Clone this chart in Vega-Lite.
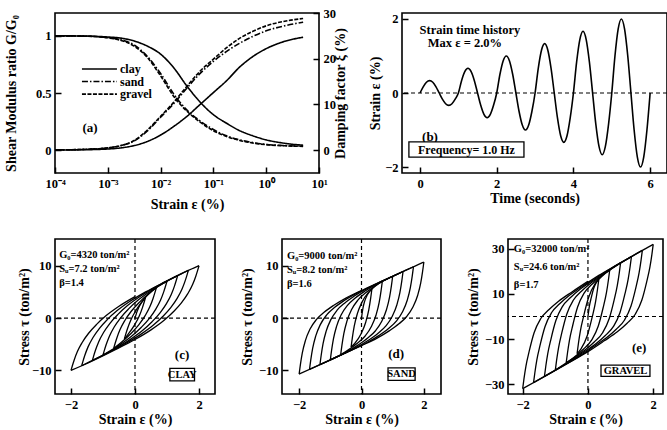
{
"$schema":"https://vega.github.io/schema/vega-lite/v6.json",
"background":"white",
"padding":{"left":3,"top":6,"right":2,"bottom":2},
"config":{
 "view":{"stroke":"black","strokeWidth":1.6},
 "axis":{"grid":false,"domain":false,"ticks":true,"tickSize":6,"offset":-6,"zindex":1,"tickColor":"#000000","tickOpacity":1,"tickWidth":1.5,"labelFont":"Liberation Serif","labelFontSize":12.5,"labelFontWeight":"bold","labelColor":"black","labelPadding":4,"titleFont":"Liberation Serif","titleFontSize":14,"titleFontWeight":"bold","titleColor":"black","labelFlush":false,"labelOverlap":false},
 "text":{"font":"Liberation Serif","fontWeight":"bold","color":"black","fontSize":12},
 "line":{"color":"black"},
 "rule":{"color":"black"}
},
"datasets":{
"gg":[
{"m":"clay","e":0.0001,"G":1.0},{"m":"clay","e":0.000316,"G":0.999},{"m":"clay","e":0.001,"G":0.99},{"m":"clay","e":0.00178,"G":0.98},{"m":"clay","e":0.00316,"G":0.955},{"m":"clay","e":0.00562,"G":0.91},{"m":"clay","e":0.01,"G":0.84},{"m":"clay","e":0.0178,"G":0.72},{"m":"clay","e":0.0316,"G":0.56},{"m":"clay","e":0.0562,"G":0.42},{"m":"clay","e":0.1,"G":0.31},{"m":"clay","e":0.178,"G":0.235},{"m":"clay","e":0.316,"G":0.17},{"m":"clay","e":0.562,"G":0.125},{"m":"clay","e":1,"G":0.09},{"m":"clay","e":2.24,"G":0.06},{"m":"clay","e":5,"G":0.043},
{"m":"sand","e":0.0001,"G":1.0},{"m":"sand","e":0.000316,"G":0.998},{"m":"sand","e":0.001,"G":0.985},{"m":"sand","e":0.00178,"G":0.965},{"m":"sand","e":0.00316,"G":0.92},{"m":"sand","e":0.00562,"G":0.82},{"m":"sand","e":0.01,"G":0.67},{"m":"sand","e":0.0178,"G":0.49},{"m":"sand","e":0.0316,"G":0.35},{"m":"sand","e":0.0562,"G":0.255},{"m":"sand","e":0.1,"G":0.18},{"m":"sand","e":0.178,"G":0.125},{"m":"sand","e":0.316,"G":0.09},{"m":"sand","e":0.562,"G":0.066},{"m":"sand","e":1,"G":0.05},{"m":"sand","e":2.24,"G":0.04},{"m":"sand","e":5,"G":0.035},
{"m":"gravel","e":0.0001,"G":1.0},{"m":"gravel","e":0.000316,"G":0.998},{"m":"gravel","e":0.001,"G":0.983},{"m":"gravel","e":0.00178,"G":0.96},{"m":"gravel","e":0.00316,"G":0.91},{"m":"gravel","e":0.00562,"G":0.81},{"m":"gravel","e":0.01,"G":0.65},{"m":"gravel","e":0.0178,"G":0.47},{"m":"gravel","e":0.0316,"G":0.34},{"m":"gravel","e":0.0562,"G":0.245},{"m":"gravel","e":0.1,"G":0.17},{"m":"gravel","e":0.178,"G":0.12},{"m":"gravel","e":0.316,"G":0.085},{"m":"gravel","e":0.562,"G":0.062},{"m":"gravel","e":1,"G":0.048},{"m":"gravel","e":2.24,"G":0.038},{"m":"gravel","e":5,"G":0.033}
],
"dd":[
{"m":"clay","e":0.0001,"D":0.02},{"m":"clay","e":0.000316,"D":0.08},{"m":"clay","e":0.001,"D":0.25},{"m":"clay","e":0.00178,"D":0.5},{"m":"clay","e":0.00316,"D":1.0},{"m":"clay","e":0.00562,"D":1.9},{"m":"clay","e":0.01,"D":3.3},{"m":"clay","e":0.0178,"D":5.2},{"m":"clay","e":0.0316,"D":7.4},{"m":"clay","e":0.0562,"D":10.0},{"m":"clay","e":0.1,"D":12.6},{"m":"clay","e":0.178,"D":15.2},{"m":"clay","e":0.316,"D":18.2},{"m":"clay","e":0.562,"D":20.5},{"m":"clay","e":1,"D":22.2},{"m":"clay","e":2.24,"D":23.8},{"m":"clay","e":5,"D":24.7},
{"m":"sand","e":0.0001,"D":0.05},{"m":"sand","e":0.000316,"D":0.15},{"m":"sand","e":0.001,"D":0.5},{"m":"sand","e":0.00178,"D":1.0},{"m":"sand","e":0.00316,"D":2.0},{"m":"sand","e":0.00562,"D":4.2},{"m":"sand","e":0.01,"D":7.2},{"m":"sand","e":0.0178,"D":10.2},{"m":"sand","e":0.0316,"D":13.6},{"m":"sand","e":0.0562,"D":16.8},{"m":"sand","e":0.1,"D":19.4},{"m":"sand","e":0.178,"D":21.6},{"m":"sand","e":0.316,"D":23.4},{"m":"sand","e":0.562,"D":24.9},{"m":"sand","e":1,"D":26.1},{"m":"sand","e":2.24,"D":27.2},{"m":"sand","e":5,"D":28.0},
{"m":"gravel","e":0.0001,"D":0.05},{"m":"gravel","e":0.000316,"D":0.15},{"m":"gravel","e":0.001,"D":0.5},{"m":"gravel","e":0.00178,"D":1.0},{"m":"gravel","e":0.00316,"D":2.1},{"m":"gravel","e":0.00562,"D":4.4},{"m":"gravel","e":0.01,"D":7.4},{"m":"gravel","e":0.0178,"D":10.5},{"m":"gravel","e":0.0316,"D":14.0},{"m":"gravel","e":0.0562,"D":17.3},{"m":"gravel","e":0.1,"D":19.9},{"m":"gravel","e":0.178,"D":22.4},{"m":"gravel","e":0.316,"D":24.5},{"m":"gravel","e":0.562,"D":26.0},{"m":"gravel","e":1,"D":27.2},{"m":"gravel","e":2.24,"D":28.2},{"m":"gravel","e":5,"D":28.8}
],
"th":[
{"t":0,"s":0},{"t":0.083,"s":0.167},{"t":0.167,"s":0.289},{"t":0.25,"s":0.333},{"t":0.333,"s":0.289},{"t":0.417,"s":0.167},{"t":0.5,"s":0},{"t":0.583,"s":-0.167},{"t":0.667,"s":-0.289},{"t":0.75,"s":-0.333},{"t":0.833,"s":-0.289},{"t":0.917,"s":-0.167},
{"t":1,"s":0},{"t":1.083,"s":0.333},{"t":1.167,"s":0.577},{"t":1.25,"s":0.667},{"t":1.333,"s":0.577},{"t":1.417,"s":0.333},{"t":1.5,"s":0},{"t":1.583,"s":-0.333},{"t":1.667,"s":-0.577},{"t":1.75,"s":-0.667},{"t":1.833,"s":-0.577},{"t":1.917,"s":-0.333},
{"t":2,"s":0},{"t":2.083,"s":0.5},{"t":2.167,"s":0.866},{"t":2.25,"s":1},{"t":2.333,"s":0.866},{"t":2.417,"s":0.5},{"t":2.5,"s":0},{"t":2.583,"s":-0.5},{"t":2.667,"s":-0.866},{"t":2.75,"s":-1},{"t":2.833,"s":-0.866},{"t":2.917,"s":-0.5},
{"t":3,"s":0},{"t":3.083,"s":0.667},{"t":3.167,"s":1.155},{"t":3.25,"s":1.333},{"t":3.333,"s":1.155},{"t":3.417,"s":0.667},{"t":3.5,"s":0},{"t":3.583,"s":-0.667},{"t":3.667,"s":-1.155},{"t":3.75,"s":-1.333},{"t":3.833,"s":-1.155},{"t":3.917,"s":-0.667},
{"t":4,"s":0},{"t":4.083,"s":0.833},{"t":4.167,"s":1.443},{"t":4.25,"s":1.667},{"t":4.333,"s":1.443},{"t":4.417,"s":0.833},{"t":4.5,"s":0},{"t":4.583,"s":-0.833},{"t":4.667,"s":-1.443},{"t":4.75,"s":-1.667},{"t":4.833,"s":-1.443},{"t":4.917,"s":-0.833},
{"t":5,"s":0},{"t":5.083,"s":1},{"t":5.167,"s":1.732},{"t":5.25,"s":2},{"t":5.333,"s":1.732},{"t":5.417,"s":1},{"t":5.5,"s":0},{"t":5.583,"s":-1},{"t":5.667,"s":-1.732},{"t":5.75,"s":-2},{"t":5.833,"s":-1.732},{"t":5.917,"s":-1},{"t":6,"s":0}
],
"clay":[
{"b":"B0","e":0,"s":0},{"b":"B0","e":0.02,"s":0.42},{"b":"B0","e":0.05,"s":1.0},{"b":"B0","e":0.1,"s":1.8},{"b":"B0","e":0.175,"s":2.67},{"b":"B0","e":0.25,"s":3.35},{"b":"B0","e":0.333,"s":4.0},
{"b":"D1","e":0.333,"s":4.0},{"b":"D1","e":0.293,"s":3.16},{"b":"D1","e":0.233,"s":2.0},{"b":"D1","e":0.133,"s":0.4},{"b":"D1","e":-0.017,"s":-1.34},{"b":"D1","e":-0.217,"s":-3.1},{"b":"D1","e":-0.333,"s":-4.0},
{"b":"A1","e":-0.333,"s":-4.0},{"b":"A1","e":-0.293,"s":-3.16},{"b":"A1","e":-0.233,"s":-2.0},{"b":"A1","e":-0.133,"s":-0.4},{"b":"A1","e":0.017,"s":1.34},{"b":"A1","e":0.217,"s":3.1},{"b":"A1","e":0.333,"s":4.0},{"b":"A1","e":0.5,"s":5.0},{"b":"A1","e":0.667,"s":5.8},
{"b":"D2","e":0.667,"s":5.8},{"b":"D2","e":0.627,"s":4.96},{"b":"D2","e":0.567,"s":3.8},{"b":"D2","e":0.467,"s":2.2},{"b":"D2","e":0.317,"s":0.46},{"b":"D2","e":0.117,"s":-1.3},{"b":"D2","e":-0.133,"s":-3.0},{"b":"D2","e":-0.433,"s":-4.68},{"b":"D2","e":-0.667,"s":-5.8},
{"b":"A2","e":-0.667,"s":-5.8},{"b":"A2","e":-0.627,"s":-4.96},{"b":"A2","e":-0.567,"s":-3.8},{"b":"A2","e":-0.467,"s":-2.2},{"b":"A2","e":-0.317,"s":-0.46},{"b":"A2","e":-0.117,"s":1.3},{"b":"A2","e":0.133,"s":3.0},{"b":"A2","e":0.433,"s":4.68},{"b":"A2","e":0.667,"s":5.8},{"b":"A2","e":0.833,"s":6.45},{"b":"A2","e":1,"s":7.05},
{"b":"D3","e":1,"s":7.05},{"b":"D3","e":0.96,"s":6.21},{"b":"D3","e":0.9,"s":5.05},{"b":"D3","e":0.8,"s":3.45},{"b":"D3","e":0.65,"s":1.71},{"b":"D3","e":0.45,"s":-0.05},{"b":"D3","e":0.2,"s":-1.75},{"b":"D3","e":-0.1,"s":-3.43},{"b":"D3","e":-0.5,"s":-5.21},{"b":"D3","e":-1,"s":-7.05},
{"b":"A3","e":-1,"s":-7.05},{"b":"A3","e":-0.96,"s":-6.21},{"b":"A3","e":-0.9,"s":-5.05},{"b":"A3","e":-0.8,"s":-3.45},{"b":"A3","e":-0.65,"s":-1.71},{"b":"A3","e":-0.45,"s":0.05},{"b":"A3","e":-0.2,"s":1.75},{"b":"A3","e":0.1,"s":3.43},{"b":"A3","e":0.5,"s":5.21},{"b":"A3","e":1,"s":7.05},{"b":"A3","e":1.167,"s":7.6},{"b":"A3","e":1.333,"s":8.1},
{"b":"D4","e":1.333,"s":8.1},{"b":"D4","e":1.293,"s":7.26},{"b":"D4","e":1.233,"s":6.1},{"b":"D4","e":1.133,"s":4.5},{"b":"D4","e":0.983,"s":2.76},{"b":"D4","e":0.783,"s":1.0},{"b":"D4","e":0.533,"s":-0.7},{"b":"D4","e":0.233,"s":-2.38},{"b":"D4","e":-0.167,"s":-4.16},{"b":"D4","e":-0.667,"s":-6.0},{"b":"D4","e":-1.333,"s":-8.1},
{"b":"A4","e":-1.333,"s":-8.1},{"b":"A4","e":-1.293,"s":-7.26},{"b":"A4","e":-1.233,"s":-6.1},{"b":"A4","e":-1.133,"s":-4.5},{"b":"A4","e":-0.983,"s":-2.76},{"b":"A4","e":-0.783,"s":-1.0},{"b":"A4","e":-0.533,"s":0.7},{"b":"A4","e":-0.233,"s":2.38},{"b":"A4","e":0.167,"s":4.16},{"b":"A4","e":0.667,"s":6.0},{"b":"A4","e":1.333,"s":8.1},{"b":"A4","e":1.5,"s":8.6},{"b":"A4","e":1.667,"s":9.1},
{"b":"D5","e":1.667,"s":9.1},{"b":"D5","e":1.627,"s":8.26},{"b":"D5","e":1.567,"s":7.1},{"b":"D5","e":1.467,"s":5.5},{"b":"D5","e":1.317,"s":3.76},{"b":"D5","e":1.117,"s":2.0},{"b":"D5","e":0.867,"s":0.3},{"b":"D5","e":0.567,"s":-1.38},{"b":"D5","e":0.167,"s":-3.16},{"b":"D5","e":-0.333,"s":-5.0},{"b":"D5","e":-0.933,"s":-6.9},{"b":"D5","e":-1.667,"s":-9.1},
{"b":"A5","e":-1.667,"s":-9.1},{"b":"A5","e":-1.627,"s":-8.26},{"b":"A5","e":-1.567,"s":-7.1},{"b":"A5","e":-1.467,"s":-5.5},{"b":"A5","e":-1.317,"s":-3.76},{"b":"A5","e":-1.117,"s":-2.0},{"b":"A5","e":-0.867,"s":-0.3},{"b":"A5","e":-0.567,"s":1.38},{"b":"A5","e":-0.167,"s":3.16},{"b":"A5","e":0.333,"s":5.0},{"b":"A5","e":0.933,"s":6.9},{"b":"A5","e":1.667,"s":9.1},{"b":"A5","e":1.833,"s":9.55},{"b":"A5","e":2,"s":10.0},
{"b":"D6","e":2,"s":10.0},{"b":"D6","e":1.96,"s":9.16},{"b":"D6","e":1.9,"s":8.0},{"b":"D6","e":1.8,"s":6.4},{"b":"D6","e":1.65,"s":4.66},{"b":"D6","e":1.45,"s":2.9},{"b":"D6","e":1.2,"s":1.2},{"b":"D6","e":0.9,"s":-0.48},{"b":"D6","e":0.5,"s":-2.26},{"b":"D6","e":0,"s":-4.1},{"b":"D6","e":-0.6,"s":-6.0},{"b":"D6","e":-1.3,"s":-8.1},{"b":"D6","e":-2,"s":-10.0},
{"b":"A6","e":-2,"s":-10.0},{"b":"A6","e":-1.96,"s":-9.16},{"b":"A6","e":-1.9,"s":-8.0},{"b":"A6","e":-1.8,"s":-6.4},{"b":"A6","e":-1.65,"s":-4.66},{"b":"A6","e":-1.45,"s":-2.9},{"b":"A6","e":-1.2,"s":-1.2},{"b":"A6","e":-0.9,"s":0.48},{"b":"A6","e":-0.5,"s":2.26},{"b":"A6","e":0,"s":4.1}
],
"sand":[
{"b":"B0","e":0,"s":0},{"b":"B0","e":0.02,"s":0.9},{"b":"B0","e":0.05,"s":2.0},{"b":"B0","e":0.1,"s":3.2},{"b":"B0","e":0.175,"s":4.3},{"b":"B0","e":0.25,"s":5.0},{"b":"B0","e":0.333,"s":5.55},
{"b":"D1","e":0.333,"s":5.55},{"b":"D1","e":0.293,"s":3.75},{"b":"D1","e":0.233,"s":1.55},{"b":"D1","e":0.133,"s":-0.85},{"b":"D1","e":-0.017,"s":-3.05},{"b":"D1","e":-0.217,"s":-4.85},{"b":"D1","e":-0.333,"s":-5.55},
{"b":"A1","e":-0.333,"s":-5.55},{"b":"A1","e":-0.293,"s":-3.75},{"b":"A1","e":-0.233,"s":-1.55},{"b":"A1","e":-0.133,"s":0.85},{"b":"A1","e":0.017,"s":3.05},{"b":"A1","e":0.217,"s":4.85},{"b":"A1","e":0.333,"s":5.55},{"b":"A1","e":0.5,"s":6.35},{"b":"A1","e":0.667,"s":6.98},
{"b":"D2","e":0.667,"s":6.98},{"b":"D2","e":0.627,"s":5.18},{"b":"D2","e":0.567,"s":2.98},{"b":"D2","e":0.467,"s":0.58},{"b":"D2","e":0.317,"s":-1.62},{"b":"D2","e":0.117,"s":-3.42},{"b":"D2","e":-0.133,"s":-4.82},{"b":"D2","e":-0.433,"s":-6.12},{"b":"D2","e":-0.667,"s":-6.98},
{"b":"A2","e":-0.667,"s":-6.98},{"b":"A2","e":-0.627,"s":-5.18},{"b":"A2","e":-0.567,"s":-2.98},{"b":"A2","e":-0.467,"s":-0.58},{"b":"A2","e":-0.317,"s":1.62},{"b":"A2","e":-0.117,"s":3.42},{"b":"A2","e":0.133,"s":4.82},{"b":"A2","e":0.433,"s":6.12},{"b":"A2","e":0.667,"s":6.98},{"b":"A2","e":0.833,"s":7.52},{"b":"A2","e":1,"s":7.98},
{"b":"D3","e":1,"s":7.98},{"b":"D3","e":0.96,"s":6.18},{"b":"D3","e":0.9,"s":3.98},{"b":"D3","e":0.8,"s":1.58},{"b":"D3","e":0.65,"s":-0.62},{"b":"D3","e":0.45,"s":-2.42},{"b":"D3","e":0.2,"s":-3.82},{"b":"D3","e":-0.1,"s":-5.12},{"b":"D3","e":-0.5,"s":-6.54},{"b":"D3","e":-1,"s":-7.98},
{"b":"A3","e":-1,"s":-7.98},{"b":"A3","e":-0.96,"s":-6.18},{"b":"A3","e":-0.9,"s":-3.98},{"b":"A3","e":-0.8,"s":-1.58},{"b":"A3","e":-0.65,"s":0.62},{"b":"A3","e":-0.45,"s":2.42},{"b":"A3","e":-0.2,"s":3.82},{"b":"A3","e":0.1,"s":5.12},{"b":"A3","e":0.5,"s":6.54},{"b":"A3","e":1,"s":7.98},{"b":"A3","e":1.167,"s":8.45},{"b":"A3","e":1.333,"s":8.9},
{"b":"D4","e":1.333,"s":8.9},{"b":"D4","e":1.293,"s":7.1},{"b":"D4","e":1.233,"s":4.9},{"b":"D4","e":1.133,"s":2.5},{"b":"D4","e":0.983,"s":0.3},{"b":"D4","e":0.783,"s":-1.5},{"b":"D4","e":0.533,"s":-2.9},{"b":"D4","e":0.233,"s":-4.2},{"b":"D4","e":-0.167,"s":-5.62},{"b":"D4","e":-0.667,"s":-7.06},{"b":"D4","e":-1.333,"s":-8.9},
{"b":"A4","e":-1.333,"s":-8.9},{"b":"A4","e":-1.293,"s":-7.1},{"b":"A4","e":-1.233,"s":-4.9},{"b":"A4","e":-1.133,"s":-2.5},{"b":"A4","e":-0.983,"s":-0.3},{"b":"A4","e":-0.783,"s":1.5},{"b":"A4","e":-0.533,"s":2.9},{"b":"A4","e":-0.233,"s":4.2},{"b":"A4","e":0.167,"s":5.62},{"b":"A4","e":0.667,"s":7.06},{"b":"A4","e":1.333,"s":8.9},{"b":"A4","e":1.5,"s":9.36},{"b":"A4","e":1.667,"s":9.8},
{"b":"D5","e":1.667,"s":9.8},{"b":"D5","e":1.627,"s":8.0},{"b":"D5","e":1.567,"s":5.8},{"b":"D5","e":1.467,"s":3.4},{"b":"D5","e":1.317,"s":1.2},{"b":"D5","e":1.117,"s":-0.6},{"b":"D5","e":0.867,"s":-2.0},{"b":"D5","e":0.567,"s":-3.3},{"b":"D5","e":0.167,"s":-4.72},{"b":"D5","e":-0.333,"s":-6.16},{"b":"D5","e":-0.933,"s":-7.8},{"b":"D5","e":-1.667,"s":-9.8},
{"b":"A5","e":-1.667,"s":-9.8},{"b":"A5","e":-1.627,"s":-8.0},{"b":"A5","e":-1.567,"s":-5.8},{"b":"A5","e":-1.467,"s":-3.4},{"b":"A5","e":-1.317,"s":-1.2},{"b":"A5","e":-1.117,"s":0.6},{"b":"A5","e":-0.867,"s":2.0},{"b":"A5","e":-0.567,"s":3.3},{"b":"A5","e":-0.167,"s":4.72},{"b":"A5","e":0.333,"s":6.16},{"b":"A5","e":0.933,"s":7.8},{"b":"A5","e":1.667,"s":9.8},{"b":"A5","e":1.833,"s":10.25},{"b":"A5","e":2,"s":10.7},
{"b":"D6","e":2,"s":10.7},{"b":"D6","e":1.96,"s":8.9},{"b":"D6","e":1.9,"s":6.7},{"b":"D6","e":1.8,"s":4.3},{"b":"D6","e":1.65,"s":2.1},{"b":"D6","e":1.45,"s":0.3},{"b":"D6","e":1.2,"s":-1.1},{"b":"D6","e":0.9,"s":-2.4},{"b":"D6","e":0.5,"s":-3.82},{"b":"D6","e":0,"s":-5.26},{"b":"D6","e":-0.6,"s":-6.9},{"b":"D6","e":-1.3,"s":-8.82},{"b":"D6","e":-2,"s":-10.7},
{"b":"A6","e":-2,"s":-10.7},{"b":"A6","e":-1.96,"s":-8.9},{"b":"A6","e":-1.9,"s":-6.7},{"b":"A6","e":-1.8,"s":-4.3},{"b":"A6","e":-1.65,"s":-2.1},{"b":"A6","e":-1.45,"s":-0.3},{"b":"A6","e":-1.2,"s":1.1},{"b":"A6","e":-0.9,"s":2.4},{"b":"A6","e":-0.5,"s":3.82},{"b":"A6","e":0,"s":5.26}
],
"gravel":[
{"b":"B0","e":0,"s":0},{"b":"B0","e":0.02,"s":2.2},{"b":"B0","e":0.05,"s":5.0},{"b":"B0","e":0.1,"s":8.3},{"b":"B0","e":0.175,"s":12.4},{"b":"B0","e":0.25,"s":14.9},{"b":"B0","e":0.333,"s":16.5},
{"b":"D1","e":0.333,"s":16.5},{"b":"D1","e":0.293,"s":12.1},{"b":"D1","e":0.233,"s":6.5},{"b":"D1","e":0.133,"s":-0.1},{"b":"D1","e":-0.017,"s":-8.3},{"b":"D1","e":-0.217,"s":-14.5},{"b":"D1","e":-0.333,"s":-16.5},
{"b":"A1","e":-0.333,"s":-16.5},{"b":"A1","e":-0.293,"s":-12.1},{"b":"A1","e":-0.233,"s":-6.5},{"b":"A1","e":-0.133,"s":0.1},{"b":"A1","e":0.017,"s":8.3},{"b":"A1","e":0.217,"s":14.5},{"b":"A1","e":0.333,"s":16.5},{"b":"A1","e":0.5,"s":18.8},{"b":"A1","e":0.667,"s":20.6},
{"b":"D2","e":0.667,"s":20.6},{"b":"D2","e":0.627,"s":16.2},{"b":"D2","e":0.567,"s":10.6},{"b":"D2","e":0.467,"s":4.0},{"b":"D2","e":0.317,"s":-4.2},{"b":"D2","e":0.117,"s":-10.4},{"b":"D2","e":-0.133,"s":-14.4},{"b":"D2","e":-0.433,"s":-18.2},{"b":"D2","e":-0.667,"s":-20.6},
{"b":"A2","e":-0.667,"s":-20.6},{"b":"A2","e":-0.627,"s":-16.2},{"b":"A2","e":-0.567,"s":-10.6},{"b":"A2","e":-0.467,"s":-4.0},{"b":"A2","e":-0.317,"s":4.2},{"b":"A2","e":-0.117,"s":10.4},{"b":"A2","e":0.133,"s":14.4},{"b":"A2","e":0.433,"s":18.2},{"b":"A2","e":0.667,"s":20.6},{"b":"A2","e":0.833,"s":22.2},{"b":"A2","e":1,"s":23.8},
{"b":"D3","e":1,"s":23.8},{"b":"D3","e":0.96,"s":19.4},{"b":"D3","e":0.9,"s":13.8},{"b":"D3","e":0.8,"s":7.2},{"b":"D3","e":0.65,"s":-1.0},{"b":"D3","e":0.45,"s":-7.2},{"b":"D3","e":0.2,"s":-11.2},{"b":"D3","e":-0.1,"s":-15.0},{"b":"D3","e":-0.5,"s":-19.0},{"b":"D3","e":-1,"s":-23.8},
{"b":"A3","e":-1,"s":-23.8},{"b":"A3","e":-0.96,"s":-19.4},{"b":"A3","e":-0.9,"s":-13.8},{"b":"A3","e":-0.8,"s":-7.2},{"b":"A3","e":-0.65,"s":1.0},{"b":"A3","e":-0.45,"s":7.2},{"b":"A3","e":-0.2,"s":11.2},{"b":"A3","e":0.1,"s":15.0},{"b":"A3","e":0.5,"s":19.0},{"b":"A3","e":1,"s":23.8},{"b":"A3","e":1.167,"s":25.2},{"b":"A3","e":1.333,"s":26.6},
{"b":"D4","e":1.333,"s":26.6},{"b":"D4","e":1.293,"s":22.2},{"b":"D4","e":1.233,"s":16.6},{"b":"D4","e":1.133,"s":10.0},{"b":"D4","e":0.983,"s":1.8},{"b":"D4","e":0.783,"s":-4.4},{"b":"D4","e":0.533,"s":-8.4},{"b":"D4","e":0.233,"s":-12.2},{"b":"D4","e":-0.167,"s":-16.2},{"b":"D4","e":-0.667,"s":-21.0},{"b":"D4","e":-1.333,"s":-26.6},
{"b":"A4","e":-1.333,"s":-26.6},{"b":"A4","e":-1.293,"s":-22.2},{"b":"A4","e":-1.233,"s":-16.6},{"b":"A4","e":-1.133,"s":-10.0},{"b":"A4","e":-0.983,"s":-1.8},{"b":"A4","e":-0.783,"s":4.4},{"b":"A4","e":-0.533,"s":8.4},{"b":"A4","e":-0.233,"s":12.2},{"b":"A4","e":0.167,"s":16.2},{"b":"A4","e":0.667,"s":21.0},{"b":"A4","e":1.333,"s":26.6},{"b":"A4","e":1.5,"s":28.0},{"b":"A4","e":1.667,"s":29.35},
{"b":"D5","e":1.667,"s":29.35},{"b":"D5","e":1.627,"s":24.95},{"b":"D5","e":1.567,"s":19.35},{"b":"D5","e":1.467,"s":12.75},{"b":"D5","e":1.317,"s":4.55},{"b":"D5","e":1.117,"s":-1.65},{"b":"D5","e":0.867,"s":-5.65},{"b":"D5","e":0.567,"s":-9.45},{"b":"D5","e":0.167,"s":-13.45},{"b":"D5","e":-0.333,"s":-18.25},{"b":"D5","e":-0.933,"s":-23.25},{"b":"D5","e":-1.667,"s":-29.35},
{"b":"A5","e":-1.667,"s":-29.35},{"b":"A5","e":-1.627,"s":-24.95},{"b":"A5","e":-1.567,"s":-19.35},{"b":"A5","e":-1.467,"s":-12.75},{"b":"A5","e":-1.317,"s":-4.55},{"b":"A5","e":-1.117,"s":1.65},{"b":"A5","e":-0.867,"s":5.65},{"b":"A5","e":-0.567,"s":9.45},{"b":"A5","e":-0.167,"s":13.45},{"b":"A5","e":0.333,"s":18.25},{"b":"A5","e":0.933,"s":23.25},{"b":"A5","e":1.667,"s":29.35},{"b":"A5","e":1.833,"s":30.7},{"b":"A5","e":2,"s":32.0},
{"b":"D6","e":2,"s":32.0},{"b":"D6","e":1.96,"s":27.6},{"b":"D6","e":1.9,"s":22.0},{"b":"D6","e":1.8,"s":15.4},{"b":"D6","e":1.65,"s":7.2},{"b":"D6","e":1.45,"s":1.0},{"b":"D6","e":1.2,"s":-3.0},{"b":"D6","e":0.9,"s":-6.8},{"b":"D6","e":0.5,"s":-10.8},{"b":"D6","e":0,"s":-15.6},{"b":"D6","e":-0.6,"s":-20.6},{"b":"D6","e":-1.3,"s":-26.4},{"b":"D6","e":-2,"s":-32.0},
{"b":"A6","e":-2,"s":-32.0},{"b":"A6","e":-1.96,"s":-27.6},{"b":"A6","e":-1.9,"s":-22.0},{"b":"A6","e":-1.8,"s":-15.4},{"b":"A6","e":-1.65,"s":-7.2},{"b":"A6","e":-1.45,"s":-1.0},{"b":"A6","e":-1.2,"s":3.0},{"b":"A6","e":-0.9,"s":6.8},{"b":"A6","e":-0.5,"s":10.8},{"b":"A6","e":0,"s":15.6}
]
},
"spacing":24,
"vconcat":[
{
"hconcat":[
{
 "width":264,"height":160,
 "layer":[
  {
   "layer":[
    {"data":{"name":"gg"},"mark":{"type":"line","strokeWidth":1.6,"interpolate":"monotone"},
     "encoding":{
      "x":{"field":"e","type":"quantitative","scale":{"type":"log","domain":[0.0001,10],"nice":false},"axis":{"values":[0.0001,0.001,0.01,0.1,1,10],"labelOverlap":false,"labelExpr":"'10' + ['⁻⁴','⁻³','⁻²','⁻¹','⁰','¹'][round(log(datum.value)/LN10)+4]","title":"Strain ε (%)","titlePadding":8}},
      "y":{"field":"G","type":"quantitative","scale":{"domain":[-0.2,1.2],"nice":false},"axis":{"values":[0,0.5,1],"format":"~r","labelOverlap":false,"title":"Shear Modulus ratio G/G₀","titlePadding":17}},
      "strokeDash":{"field":"m","type":"nominal","scale":{"domain":["clay","sand","gravel"],"range":[[1,0],[6,2,1.5,2],[4,1.5]]},"legend":null}
     }},
    {"data":{"values":[{}]},"mark":{"type":"rule","strokeWidth":1.6},"encoding":{"x":{"datum":0.000324},"x2":{"datum":0.00149},"y":{"datum":0.71}}},
    {"data":{"values":[{}]},"mark":{"type":"rule","strokeWidth":1.6,"strokeDash":[6,2,1.5,2]},"encoding":{"x":{"datum":0.000324},"x2":{"datum":0.00149},"y":{"datum":0.6}}},
    {"data":{"values":[{}]},"mark":{"type":"rule","strokeWidth":1.6,"strokeDash":[4,1.5]},"encoding":{"x":{"datum":0.000324},"x2":{"datum":0.00149},"y":{"datum":0.49}}},
    {"data":{"values":[{}]},"mark":{"type":"text","align":"left","baseline":"middle","fontSize":12,"text":"clay"},"encoding":{"x":{"datum":0.0017},"y":{"datum":0.71}}},
    {"data":{"values":[{}]},"mark":{"type":"text","align":"left","baseline":"middle","fontSize":12,"text":"sand"},"encoding":{"x":{"datum":0.0017},"y":{"datum":0.6}}},
    {"data":{"values":[{}]},"mark":{"type":"text","align":"left","baseline":"middle","fontSize":12,"text":"gravel"},"encoding":{"x":{"datum":0.0017},"y":{"datum":0.49}}},
    {"data":{"values":[{}]},"mark":{"type":"text","align":"center","baseline":"middle","fontSize":13,"text":"(a)"},"encoding":{"x":{"datum":0.00046},"y":{"datum":0.19}}}
   ]
  },
  {"data":{"name":"dd"},"mark":{"type":"line","strokeWidth":1.6,"interpolate":"monotone"},
   "encoding":{
    "x":{"field":"e","type":"quantitative","scale":{"type":"log","domain":[0.0001,10],"nice":false}},
    "y":{"field":"D","type":"quantitative","scale":{"domain":[-5,30],"nice":false},"axis":{"orient":"right","values":[0,10,20,30],"format":"d","labelOverlap":false,"title":"Damping factor ξ (%)","titleAngle":270,"titlePadding":12}},
    "strokeDash":{"field":"m","type":"nominal","legend":null}
   }}
 ],
 "resolve":{"scale":{"y":"independent"}}
},
{
 "width":265,"height":160,
 "layer":[
  {"data":{"values":[{}]},"mark":{"type":"rule","strokeDash":[4,3],"strokeWidth":1.2},"encoding":{"y":{"datum":0}}},
  {"data":{"name":"th"},"mark":{"type":"line","interpolate":"monotone","strokeWidth":1.6},
   "encoding":{
    "x":{"field":"t","type":"quantitative","scale":{"domain":[-0.47,6.44],"nice":false},"axis":{"values":[0,2,4,6],"format":"d","labelOverlap":false,"title":"Time (seconds)","titlePadding":2}},
    "y":{"field":"s","type":"quantitative","scale":{"domain":[-2.16,2.16],"nice":false},"axis":{"values":[-2,0,2],"format":"d","labelOverlap":false,"title":"Strain ε (%)","titlePadding":2}}
   }},
  {"data":{"values":[{}]},"mark":{"type":"text","align":"center","baseline":"middle","fontSize":12.5,"text":"Strain time history"},"encoding":{"x":{"datum":1.3},"y":{"datum":1.7}}},
  {"data":{"values":[{}]},"mark":{"type":"text","align":"center","baseline":"middle","fontSize":12.5,"text":"Max ε = 2.0%"},"encoding":{"x":{"datum":1.17},"y":{"datum":1.35}}},
  {"data":{"values":[{}]},"mark":{"type":"text","align":"center","baseline":"middle","fontSize":13,"text":"(b)"},"encoding":{"x":{"datum":0.26},"y":{"datum":-1.19}}},
  {"data":{"values":[{}]},"mark":{"type":"rect","fill":"white","stroke":"black","strokeWidth":1.3},"encoding":{"x":{"datum":-0.29},"x2":{"datum":2.71},"y":{"datum":-1.32},"y2":{"datum":-1.73}}},
  {"data":{"values":[{}]},"mark":{"type":"text","align":"center","baseline":"middle","fontSize":12,"text":"Frequency= 1.0 Hz"},"encoding":{"x":{"datum":1.21},"y":{"datum":-1.53}}}
 ]
}
],
"spacing":83,
"bounds":"flush"
},
{
"hconcat":[
{
 "width":160,"height":155,
 "layer":[
  {"data":{"values":[{}]},"mark":{"type":"rule","strokeDash":[4,3],"strokeWidth":1.2},"encoding":{"y":{"datum":0}}},
  {"data":{"values":[{}]},"mark":{"type":"rule","strokeDash":[4,3],"strokeWidth":1.2},"encoding":{"x":{"datum":0}}},
  {"data":{"name":"clay"},"mark":{"type":"line","interpolate":"monotone","strokeWidth":1.3},
   "encoding":{
    "x":{"field":"e","type":"quantitative","scale":{"domain":[-2.5,2.5],"nice":false},"axis":{"values":[-2,0,2],"format":"d","labelOverlap":false,"title":"Strain ε (%)","titlePadding":2}},
    "y":{"field":"s","type":"quantitative","scale":{"domain":[-14.5,15.1],"nice":false},"axis":{"values":[-10,0,10],"format":"d","labelOverlap":false,"title":"Stress τ (ton/m²)","titlePadding":0}},
    "detail":{"field":"b","type":"nominal"}
   }},
  {"data":{"values":[{}]},"mark":{"type":"text","align":"left","baseline":"top","fontSize":10.5,"lineHeight":14,"text":["G₀=4320 ton/m²","Sᵤ=7.2 ton/m²","β=1.4"]},"encoding":{"x":{"datum":-2.37},"y":{"datum":13.0}}},
  {"data":{"values":[{}]},"mark":{"type":"text","align":"center","baseline":"middle","fontSize":13,"text":"(c)"},"encoding":{"x":{"datum":1.47},"y":{"datum":-7.1}}},
  {"data":{"values":[{}]},"mark":{"type":"rect","fill":"white","stroke":"black","strokeWidth":1.3},"encoding":{"x":{"datum":1.09},"x2":{"datum":1.86},"y":{"datum":-9.6},"y2":{"datum":-12.0}}},
  {"data":{"values":[{}]},"mark":{"type":"text","align":"center","baseline":"middle","fontSize":10.5,"text":"CLAY"},"encoding":{"x":{"datum":1.475},"y":{"datum":-10.8}}}
 ]
},
{
 "width":159,"height":155,
 "layer":[
  {"data":{"values":[{}]},"mark":{"type":"rule","strokeDash":[4,3],"strokeWidth":1.2},"encoding":{"y":{"datum":0}}},
  {"data":{"values":[{}]},"mark":{"type":"rule","strokeDash":[4,3],"strokeWidth":1.2},"encoding":{"x":{"datum":0}}},
  {"data":{"name":"sand"},"mark":{"type":"line","interpolate":"monotone","strokeWidth":1.3},
   "encoding":{
    "x":{"field":"e","type":"quantitative","scale":{"domain":[-2.55,2.55],"nice":false},"axis":{"values":[-2,0,2],"format":"d","labelOverlap":false,"title":"Strain ε (%)","titlePadding":2}},
    "y":{"field":"s","type":"quantitative","scale":{"domain":[-14.5,15.1],"nice":false},"axis":{"values":[-10,0,10],"format":"d","labelOverlap":false,"title":"Stress τ (ton/m²)","titlePadding":4}},
    "detail":{"field":"b","type":"nominal"}
   }},
  {"data":{"values":[{}]},"mark":{"type":"text","align":"left","baseline":"top","fontSize":10.5,"lineHeight":14,"text":["G₀=9000 ton/m²","Sᵤ=8.2 ton/m²","β=1.6"]},"encoding":{"x":{"datum":-2.39},"y":{"datum":12.8}}},
  {"data":{"values":[{}]},"mark":{"type":"text","align":"center","baseline":"middle","fontSize":13,"text":"(d)"},"encoding":{"x":{"datum":1.11},"y":{"datum":-6.9}}},
  {"data":{"values":[{}]},"mark":{"type":"rect","fill":"white","stroke":"black","strokeWidth":1.3},"encoding":{"x":{"datum":0.85},"x2":{"datum":1.72},"y":{"datum":-9.5},"y2":{"datum":-11.9}}},
  {"data":{"values":[{}]},"mark":{"type":"text","align":"center","baseline":"middle","fontSize":10.5,"text":"SAND"},"encoding":{"x":{"datum":1.285},"y":{"datum":-10.7}}}
 ]
},
{
 "width":155,"height":155,
 "layer":[
  {"data":{"values":[{}]},"mark":{"type":"rule","strokeDash":[4,3],"strokeWidth":1.2},"encoding":{"y":{"datum":0}}},
  {"data":{"values":[{}]},"mark":{"type":"rule","strokeDash":[4,3],"strokeWidth":1.2},"encoding":{"x":{"datum":0}}},
  {"data":{"name":"gravel"},"mark":{"type":"line","interpolate":"monotone","strokeWidth":1.3},
   "encoding":{
    "x":{"field":"e","type":"quantitative","scale":{"domain":[-2.45,2.3],"nice":false},"axis":{"values":[-2,0,2],"format":"d","labelOverlap":false,"title":"Strain ε (%)","titlePadding":2}},
    "y":{"field":"s","type":"quantitative","scale":{"domain":[-34.4,34.4],"nice":false},"axis":{"values":[-30,-20,-10,0,10,20,30],"format":"d","labelOverlap":false,"title":"Stress τ (ton/m²)","titlePadding":4}},
    "detail":{"field":"b","type":"nominal"}
   }},
  {"data":{"values":[{}]},"mark":{"type":"text","align":"left","baseline":"top","fontSize":10.5,"lineHeight":18,"text":["G₀=32000 ton/m²","Sᵤ=24.6 ton/m²","β=1.7"]},"encoding":{"x":{"datum":-2.27},"y":{"datum":32.0}}},
  {"data":{"values":[{}]},"mark":{"type":"text","align":"center","baseline":"middle","fontSize":13,"text":"(e)"},"encoding":{"x":{"datum":1.57},"y":{"datum":-14.0}}},
  {"data":{"values":[{}]},"mark":{"type":"rect","fill":"white","stroke":"black","strokeWidth":1.3},"encoding":{"x":{"datum":0.4},"x2":{"datum":1.9},"y":{"datum":-21.6},"y2":{"datum":-26.6}}},
  {"data":{"values":[{}]},"mark":{"type":"text","align":"center","baseline":"middle","fontSize":10.5,"text":"GRAVEL"},"encoding":{"x":{"datum":1.15},"y":{"datum":-24.1}}}
 ]
}
],
"spacing":67,
"bounds":"flush"
}
]
}
